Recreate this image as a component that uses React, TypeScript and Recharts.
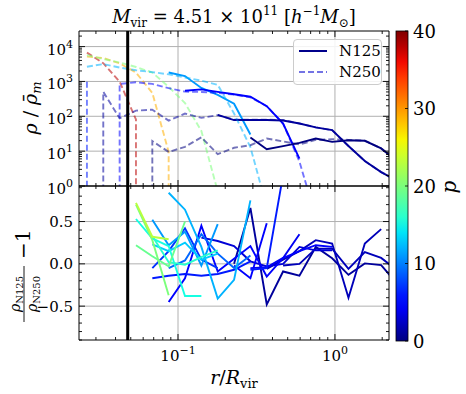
import React from "react";
import { ComposedChart, Line, XAxis, YAxis, ReferenceLine } from "recharts";

const FONT = "DejaVu Serif";
const P_MAX = 40;

// radial bins, r / R_vir
const rBins = [
  0.02629, 0.03341, 0.04247, 0.05398, 0.06861, 0.0872, 0.1108, 0.1409, 0.1791, 0.2276,
  0.2893, 0.3677, 0.4673, 0.594, 0.7549, 0.9595, 1.2195, 1.55, 1.97, 2.504,
];
const rCut = 0.0478;

// top panel: rho / rho_m per bin (0 = empty bin, null = not measured)
const n125P11 = [null, null, null, null, null, 1800, 1430, 650, 410, 230, 30];
const n125P5 = [null, null, null, null, null, null, 540, 590, 500, 430, 365, 195, 62, 6.1];
const n125P1 = [null, null, null, null, null, null, null, null, 110, 78, 78, 78, 76, 62, 48, 40, 14, 5.2, 2.5, 1.4];
const n125P0 = [null, null, null, null, null, null, null, null, null, null, 24.7, 11.4, 13.9, 17.3, 23, 18.5, 20.6, 19.8, 12, 5];

const n250P38 = [6700, 3330, 985, 81, 0];
const n250P29 = [5140, 4700, 3300, 1800, 470, 9.5, 0];
const n250P20 = [5700, 4400, 3500, 2600, 1800, 700, 240, 38, 0.7];
const n250P12 = [2650, 3150, 2500, 2100, 1850, 1600, 1300, 1050, 800, 120, 13, 0.25];
const n250P6 = [985, 0];
const n250P5 = [null, 0, 847, 945, 850, 640, 510, 500, 470, 420, 350, 195, 62, 5, 0.13];
const n250P1 = [0, 505, 87, 145, 155, 75, 120, 90, 108, 80, 80, 80, 78, 62, 48, 40, 14, 5.2, 2.5, 1.4];
const n250P0 = [null, null, null, 0, 19.5, 9.5, 13.3, 25, 8.2, 12.5, 14.8, 23, 19, 15.5, 21, 22, 21, 20, 12, 5];

// bottom panel: rho_N125 / rho_N250 - 1 per bin
const ratioP23 = [null, null, null, 0.72, 0.32, 0.29];
const ratioP20 = [null, null, null, 0.7, 0.28, -0.37];
const ratioP19 = [null, null, null, 0.22, 0.09, -0.03, 0.5];
const ratioP16 = [null, null, null, null, 0.33, 0.02, -0.01, 0.08, 0.16];
const ratioP15 = [null, null, null, 0.53, 0.3, 0.21, -0.38, -0.38];
const ratioP13 = [null, null, null, null, 0.23, 0.15, 0.25, 0.05, 0.12];
const ratioP12 = [null, null, null, null, null, 0.84, 0.64, 0.2, -0.41, -0.19, 0.75];
const ratioP11 = [null, null, null, null, 0.52, 0.22, 0.38, -0.02, 0.47];
const ratioP9 = [null, null, null, null, null, -0.05, 0.04, 0.35, 0.12, -0.05, 0.1];
const ratioP7 = [null, null, null, null, -0.05, 0.15, 0.42, 0.05, -0.05];
const ratioP6a = [null, null, null, null, -0.17, -0.14, -0.12, -0.14, -0.12, -0.07, 0.03];
const ratioP6b = [null, null, null, null, null, null, null, null, null, null, -0.07, -0.05, 1.05];
const ratioP5a = [null, null, null, null, null, -0.45, -0.17, 0.45, -0.09, 0.06, 0.21, -0.15, 0.07, 0.15, 0.22, 0.2];
const ratioP5b = [null, null, null, null, null, null, null, null, null, -0.02, -0.17, 0.48];
const ratioP4 = [null, null, null, null, null, null, null, null, null, null, -0.05, -0.04, 0.07, 0.35];
const ratioP3 = [null, null, null, null, null, null, null, 0.31, 0.27, 0.21, 0.03, -0.03, 0.0, 0.2, 0.16, 0.16];
const ratioP2a = [null, null, null, null, null, null, null, null, null, null, null, -0.06, 0.05, 0.15, 0.28, 0.24, -0.4, 0.24, 0.41];
const ratioP2b = [null, null, null, null, null, null, null, null, null, null, null, null, -0.02, 0.0, 0.18, 0.18, -0.06, 0.14, 0.07, -0.08];
const ratioP1 = [null, null, null, null, null, null, null, null, null, 0.0, 0.66, -0.48, -0.09, -0.14, 0.2, 0.065, -0.13, 0.005, -0.015, -0.24];

const xMajor = [0.1, 1];
const rhoMajor = [1, 10, 100, 1000, 10000];
const ratioMajor = [-0.5, 0, 0.5];
const ratioLabels = ["−0.5", "0.0", "0.5"];
const cbarTicks = [0, 10, 20, 30, 40];

const X_DOMAIN = [0.0234, 2.21];
const RHO_DOMAIN = [1, 28000];
const RATIO_DOMAIN = [-0.9, 0.92];

const n125Series = [
  { p: 11, vals: n125P11 },
  { p: 5, vals: n125P5 },
  { p: 1, vals: n125P1 },
  { p: 0, vals: n125P0 },
];
const n250Series = [
  { p: 38, vals: n250P38 },
  { p: 29, vals: n250P29 },
  { p: 20, vals: n250P20 },
  { p: 12, vals: n250P12 },
  { p: 6, vals: n250P6 },
  { p: 5, vals: n250P5 },
  { p: 1, vals: n250P1 },
  { p: 0, vals: n250P0 },
];
const ratioSeries = [
  { p: 1, vals: ratioP1 },
  { p: 2, vals: ratioP2a },
  { p: 2, vals: ratioP2b },
  { p: 3, vals: ratioP3 },
  { p: 4, vals: ratioP4 },
  { p: 5, vals: ratioP5a },
  { p: 5, vals: ratioP5b },
  { p: 6, vals: ratioP6a },
  { p: 6, vals: ratioP6b },
  { p: 7, vals: ratioP7 },
  { p: 9, vals: ratioP9 },
  { p: 11, vals: ratioP11 },
  { p: 12, vals: ratioP12 },
  { p: 13, vals: ratioP13 },
  { p: 15, vals: ratioP15 },
  { p: 16, vals: ratioP16 },
  { p: 19, vals: ratioP19 },
  { p: 20, vals: ratioP20 },
  { p: 23, vals: ratioP23 },
];

// matplotlib "jet"
const JET: Record<string, number[][]> = {
  r: [[0, 0], [0.35, 0], [0.66, 1], [0.89, 1], [1, 0.5]],
  g: [[0, 0], [0.125, 0], [0.375, 1], [0.64, 1], [0.91, 0], [1, 0]],
  b: [[0, 0.5], [0.11, 1], [0.34, 1], [0.65, 0], [1, 0]],
};
function seg(pts: number[][], t: number) {
  for (let i = 1; i < pts.length; i++) {
    if (t <= pts[i][0]) {
      const [x0, y0] = pts[i - 1];
      const [x1, y1] = pts[i];
      return y0 + ((y1 - y0) * (t - x0)) / (x1 - x0);
    }
  }
  return pts[pts.length - 1][1];
}
function jet(p: number) {
  const t = Math.min(1, Math.max(0, p / P_MAX));
  const c = (k: string) => Math.round(255 * seg(JET[k], t));
  return `rgb(${c("r")},${c("g")},${c("b")})`;
}

// zeros on a log axis get clipped far below, like matplotlib does -> near vertical drop
const FLOOR = 1e-4;
function toPoints(vals: (number | null)[], logY: boolean) {
  const pts: { r: number; v: number }[] = [];
  vals.forEach((v, i) => {
    if (v == null) return;
    if (logY && v <= 0) {
      const prev = vals[i - 1];
      const next = vals[i + 1];
      if (prev != null && prev > 0) pts.push({ r: rBins[i - 1], v: FLOOR });
      if (next != null && next > 0) pts.push({ r: rBins[i + 1], v: FLOOR });
      return;
    }
    pts.push({ r: rBins[i], v });
  });
  return pts;
}

function logMinor(lo: number, hi: number) {
  const out: number[] = [];
  for (let e = -3; e <= 5; e++) {
    for (let k = 1; k <= 9; k++) {
      const v = parseFloat((k * Math.pow(10, e)).toPrecision(6));
      if (v >= lo && v <= hi) out.push(v);
    }
  }
  return out;
}
const xTicks = logMinor(X_DOMAIN[0], X_DOMAIN[1]);
const rhoTicks = logMinor(RHO_DOMAIN[0], RHO_DOMAIN[1]);
const ratioTicks: number[] = [];
for (let i = -9; i <= 9; i++) ratioTicks.push(i / 10);

const isMajor = (majors: number[], v: number) =>
  majors.some((m) => Math.abs(m - v) <= 1e-9 * Math.max(1, Math.abs(m)));

function expText(v: number) {
  const e = Math.round(Math.log10(v));
  return e < 0 ? `−${-e}` : `${e}`;
}

type Side = "bottom" | "top" | "left" | "right";
function makeTick(side: Side, majors: number[], label?: (x: number, y: number, v: number) => React.ReactNode) {
  return (props: any) => {
    const { x, y, payload } = props;
    const v = payload.value;
    const major = isMajor(majors, v);
    const len = major ? 6 : 3;
    let x2 = x;
    let y2 = y;
    if (side === "bottom") y2 = y - len;
    else if (side === "top") y2 = y + len;
    else if (side === "left") x2 = x + len;
    else x2 = x - len;
    return (
      <g>
        <line x1={x} y1={y} x2={x2} y2={y2} stroke="#000" strokeWidth={0.9} />
        {major && label ? label(x, y, v) : null}
      </g>
    );
  };
}

const TICK_FS = 15;
const xPowLabel = (x: number, y: number, v: number) => (
  <text x={x} y={y + 21} textAnchor="middle" fontFamily={FONT} fontSize={TICK_FS} fill="#000">
    <tspan>10</tspan>
    <tspan dy={-7} fontSize={11}>{expText(v)}</tspan>
  </text>
);
const yPowLabel = (x: number, y: number, v: number) => (
  <text x={x - 6} y={y + 8} textAnchor="end" fontFamily={FONT} fontSize={TICK_FS} fill="#000">
    <tspan>10</tspan>
    <tspan dy={-7} fontSize={11}>{expText(v)}</tspan>
  </text>
);
const ratioLabel = (x: number, y: number, v: number) => (
  <text x={x - 6} y={y + 5.5} textAnchor="end" fontFamily={FONT} fontSize={TICK_FS} fill="#000">
    {ratioLabels[ratioMajor.findIndex((m) => Math.abs(m - v) < 1e-9)]}
  </text>
);

const GRID = "#b0b0b0";
const axisCommon = {
  type: "number" as const,
  allowDataOverflow: true,
  interval: 0 as const,
  tickSize: 0,
  tickMargin: 0,
  tickLine: false,
  axisLine: { stroke: "#000", strokeWidth: 1 },
};

function TopPanel() {
  return (
    <ComposedChart width={466} height={200} margin={{ top: 30, right: 76, bottom: 10, left: 0 }}>
      <XAxis xAxisId="b" orientation="bottom" height={4} dataKey="r" scale="log" domain={X_DOMAIN}
        ticks={xTicks} tick={makeTick("bottom", xMajor)} {...axisCommon} />
      <XAxis xAxisId="t" orientation="top" height={1} dataKey="r" scale="log" domain={X_DOMAIN}
        ticks={xTicks} tick={makeTick("top", xMajor)} {...axisCommon} />
      <YAxis yAxisId="l" orientation="left" width={79} dataKey="v" scale="log" domain={RHO_DOMAIN}
        ticks={rhoTicks} tick={makeTick("left", rhoMajor, yPowLabel)} {...axisCommon} />
      <YAxis yAxisId="r" orientation="right" width={1} dataKey="v" scale="log" domain={RHO_DOMAIN}
        ticks={rhoTicks} tick={makeTick("right", rhoMajor)} {...axisCommon} />
      {rhoMajor.slice(1).map((v) => (
        <ReferenceLine key={"gy" + v} xAxisId="b" yAxisId="l" y={v} stroke={GRID} strokeWidth={1} />
      ))}
      {xMajor.map((v) => (
        <ReferenceLine key={"gx" + v} xAxisId="b" yAxisId="l" x={v} stroke={GRID} strokeWidth={1} />
      ))}
      {n125Series.map((s, i) => (
        <Line key={"s" + i} xAxisId="b" yAxisId="l" data={toPoints(s.vals, true)} dataKey="v"
          stroke={jet(s.p)} strokeWidth={1.9} dot={false} isAnimationActive={false} />
      ))}
      {n250Series.map((s, i) => (
        <Line key={"d" + i} xAxisId="b" yAxisId="l" data={toPoints(s.vals, true)} dataKey="v"
          stroke={jet(s.p)} strokeOpacity={0.55} strokeDasharray="6 3" strokeWidth={1.9}
          dot={false} isAnimationActive={false} />
      ))}
      <ReferenceLine xAxisId="b" yAxisId="l" x={rCut} stroke="#000" strokeWidth={3} />
    </ComposedChart>
  );
}

function BottomPanel() {
  return (
    <ComposedChart width={466} height={214} margin={{ top: 5, right: 76, bottom: 14, left: 0 }}>
      <XAxis xAxisId="b" orientation="bottom" height={40} dataKey="r" scale="log" domain={X_DOMAIN}
        ticks={xTicks} tick={makeTick("bottom", xMajor, xPowLabel)} {...axisCommon} />
      <XAxis xAxisId="t" orientation="top" height={1} dataKey="r" scale="log" domain={X_DOMAIN}
        ticks={xTicks} tick={makeTick("top", xMajor)} {...axisCommon} />
      <YAxis yAxisId="l" orientation="left" width={79} dataKey="v" domain={RATIO_DOMAIN}
        ticks={ratioTicks} tick={makeTick("left", ratioMajor, ratioLabel)} {...axisCommon} />
      <YAxis yAxisId="r" orientation="right" width={1} dataKey="v" domain={RATIO_DOMAIN}
        ticks={ratioTicks} tick={makeTick("right", ratioMajor)} {...axisCommon} />
      {ratioMajor.map((v) => (
        <ReferenceLine key={"gy" + v} xAxisId="b" yAxisId="l" y={v} stroke={GRID} strokeWidth={1} />
      ))}
      {xMajor.map((v) => (
        <ReferenceLine key={"gx" + v} xAxisId="b" yAxisId="l" x={v} stroke={GRID} strokeWidth={1} />
      ))}
      {ratioSeries.map((s, i) => (
        <Line key={"q" + i} xAxisId="b" yAxisId="l" data={toPoints(s.vals, false)} dataKey="v"
          stroke={jet(s.p)} strokeWidth={1.9} dot={false} isAnimationActive={false} />
      ))}
      <ReferenceLine xAxisId="b" yAxisId="l" x={rCut} stroke="#000" strokeWidth={3} />
    </ComposedChart>
  );
}

function Colorbar() {
  const top = 31;
  const h = 310;
  const left = 396;
  const w = 12;
  const stops = [];
  for (let i = 0; i <= 20; i++) stops.push(i / 20);
  return (
    <g>
      <defs>
        <linearGradient id="jetGrad" x1="0" y1="1" x2="0" y2="0">
          {stops.map((t) => (
            <stop key={t} offset={t} stopColor={jet(t * P_MAX)} />
          ))}
        </linearGradient>
      </defs>
      <rect x={left} y={top} width={w} height={h} fill="url(#jetGrad)" stroke="#000" strokeWidth={0.8} />
      {cbarTicks.map((v) => {
        const y = top + (1 - v / P_MAX) * h;
        return (
          <g key={v}>
            <line x1={left + w} y1={y} x2={left + w - 3} y2={y} stroke="#000" strokeWidth={0.8} />
            <text x={left + w + 5} y={y + 6.5} fontFamily={FONT} fontSize={18} fill="#000">{v}</text>
          </g>
        );
      })}
      <text transform="translate(456,187) rotate(-90)" textAnchor="middle" fontFamily={FONT}
        fontStyle="italic" fontSize={20} fill="#000">p</text>
    </g>
  );
}

function Labels() {
  return (
    <g fontFamily={FONT} fill="#000">
      <text x={234} y={23} textAnchor="middle" fontSize={18}>
        <tspan fontStyle="italic">M</tspan>
        <tspan fontSize={12} dy={4}>vir</tspan>
        <tspan dy={-4}> = 4.51 × 10</tspan>
        <tspan fontSize={12} dy={-8}>11</tspan>
        <tspan dy={8}> [</tspan>
        <tspan fontStyle="italic">h</tspan>
        <tspan fontSize={12} dy={-8}>−1</tspan>
        <tspan dy={8} fontStyle="italic">M</tspan>
        <tspan fontSize={12} dy={4}>⊙</tspan>
        <tspan dy={-4}>]</tspan>
      </text>
      <text x={234} y={384} textAnchor="middle" fontSize={19}>
        <tspan fontStyle="italic">r</tspan>
        <tspan>/</tspan>
        <tspan fontStyle="italic">R</tspan>
        <tspan fontSize={13} dy={4}>vir</tspan>
      </text>
      <text transform="translate(37,108) rotate(-90)" textAnchor="middle" fontSize={19}>
        <tspan fontStyle="italic">ρ</tspan>
        <tspan> / </tspan>
        <tspan fontStyle="italic">ρ̄</tspan>
        <tspan fontSize={13} dy={4} fontStyle="italic">m</tspan>
      </text>
      <g transform="translate(24,262) rotate(-90)">
        <text x={-32} y={-4} textAnchor="middle" fontSize={14}>
          <tspan fontStyle="italic">ρ</tspan>
          <tspan fontSize={10} dy={3}>N125</tspan>
        </text>
        <line x1={-60} y1={0} x2={-4} y2={0} stroke="#000" strokeWidth={0.9} />
        <text x={-32} y={13} textAnchor="middle" fontSize={14}>
          <tspan fontStyle="italic">ρ</tspan>
          <tspan fontSize={10} dy={3}>N250</tspan>
        </text>
        <text x={3} y={6} fontSize={20}>−1</text>
      </g>
    </g>
  );
}

function LegendBox() {
  return (
    <div style={{ position: "absolute", left: 293, top: 39, width: 89, height: 46, boxSizing: "border-box",
      border: "1px solid #cccccc", borderRadius: 4, background: "rgba(255,255,255,0.85)" }}>
      <svg width={89} height={46} style={{ position: "absolute", left: -1, top: -1 }}>
        <line x1={6} y1={12} x2={34} y2={12} stroke="#00008b" strokeWidth={2} />
        <text x={46} y={17} fontFamily={FONT} fontSize={15} fill="#000">N125</text>
        <line x1={6} y1={33} x2={34} y2={33} stroke="#0000cd" strokeOpacity={0.55} strokeWidth={2} strokeDasharray="6 3" />
        <text x={46} y={38} fontFamily={FONT} fontSize={15} fill="#000">N250</text>
      </svg>
    </div>
  );
}

export default function App() {
  return (
    <div style={{ position: "absolute", left: 0, top: 0, width: 466, height: 394, background: "#fff", overflow: "hidden" }}>
      <div style={{ position: "absolute", left: 0, top: 0 }}>
        <TopPanel />
      </div>
      <div style={{ position: "absolute", left: 0, top: 180 }}>
        <BottomPanel />
      </div>
      <svg width={466} height={394} style={{ position: "absolute", left: 0, top: 0, pointerEvents: "none" }}>
        <Labels />
        <Colorbar />
      </svg>
      <LegendBox />
    </div>
  );
}
